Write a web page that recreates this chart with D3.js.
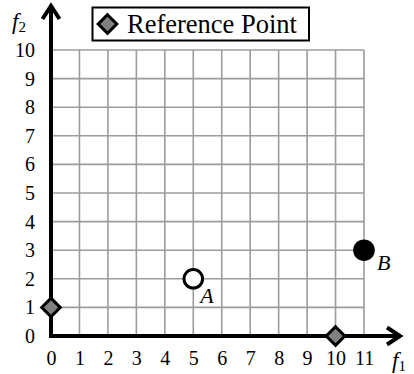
<!DOCTYPE html>
<html>
<head>
<meta charset="utf-8">
<script src="https://cdn.jsdelivr.net/npm/d3@7/dist/d3.min.js"></script>
<style>
  html, body { margin: 0; padding: 0; background: #fff; }
  svg, svg text { font-family: "Liberation Serif", "Times New Roman", Times, "DejaVu Serif", serif !important; }
</style>
</head>
<body>
<svg id="chart" width="414" height="374"></svg>
<script>
// Objective-space plot: f1 horizontal, f2 vertical
const xTicks = [0, 1, 2, 3, 4, 5, 6, 7, 8, 9, 10, 11];
const yTicks = [0, 1, 2, 3, 4, 5, 6, 7, 8, 9, 10];

// Reference points (grey diamonds)
const refPoints = [
  { f1: 0, f2: 1 },
  { f1: 10, f2: 0 }
];

// Labelled solutions
const solutionNames = ["A", "B"];
const solutionF1 = [5, 11];
const solutionF2 = [2, 3];
const solutionFilled = [false, true];

const legendLabel = "Reference Point";

const SERIF = '"Liberation Serif", "Times New Roman", Times, "DejaVu Serif", serif';

const svg = d3.select("#chart");

const x = d3.scaleLinear().domain([0, 11]).range([51, 364]);
const y = d3.scaleLinear().domain([0, 10]).range([336, 50]);

// Grid
const grid = svg.append("g").attr("stroke", "#9c9c9c").attr("stroke-width", 1.6);
grid.selectAll("line.v").data(xTicks).join("line")
  .attr("class", "v")
  .attr("x1", d => x(d)).attr("x2", d => x(d))
  .attr("y1", y(0)).attr("y2", y(10));
grid.selectAll("line.h").data(yTicks).join("line")
  .attr("class", "h")
  .attr("x1", x(0)).attr("x2", x(11))
  .attr("y1", d => y(d)).attr("y2", d => y(d));

// Tick labels via d3 axes (no domain / tick marks)
const xAxis = svg.append("g")
  .attr("transform", `translate(0,${y(0)})`)
  .call(d3.axisBottom(x).tickValues(xTicks).tickSize(0).tickPadding(15).tickFormat(d3.format("d")));
const yAxis = svg.append("g")
  .attr("transform", `translate(${x(0)},0)`)
  .call(d3.axisLeft(y).tickValues(yTicks).tickSize(0).tickPadding(16).tickFormat(d3.format("d")));
[xAxis, yAxis].forEach(g => {
  g.attr("font-family", null).attr("font-size", null);
  g.select(".domain").remove();
  g.selectAll("text")
    .style("font-family", SERIF)
    .style("font-size", "20px")
    .attr("fill", "#000");
});

// Thick axes with arrowheads
const axes = svg.append("g").attr("stroke", "#000").attr("stroke-width", 4).attr("fill", "none");
axes.append("line")
  .attr("x1", x(0)).attr("y1", y(0) + 2)
  .attr("x2", x(0)).attr("y2", 7);
axes.append("path")
  .attr("stroke-linejoin", "miter")
  .attr("d", `M${x(0) - 8.5},19 L${x(0)},6 L${x(0) + 8.5},19`);
axes.append("line")
  .attr("x1", x(0) - 2).attr("y1", y(0))
  .attr("x2", 399).attr("y2", y(0));
axes.append("path")
  .attr("stroke-linejoin", "miter")
  .attr("d", `M387,${y(0) - 8.5} L400,${y(0)} L387,${y(0) + 8.5}`);

// Axis titles
const f2 = svg.append("text").attr("x", 12).attr("y", 28.5).style("font-size", "23px");
f2.append("tspan").style("font-style", "italic").text("f");
f2.append("tspan").style("font-size", "15px").attr("dy", 3).text("2");

const f1 = svg.append("text").attr("x", 392).attr("y", 368).style("font-size", "23px");
f1.append("tspan").style("font-style", "italic").text("f");
f1.append("tspan").style("font-size", "15px").attr("dy", 2.5).text("1");

// Diamond symbol
const diamond = (cx, cy, r) => `M${cx},${cy - r} L${cx + r},${cy} L${cx},${cy + r} L${cx - r},${cy} Z`;

svg.append("g").selectAll("path").data(refPoints).join("path")
  .attr("d", d => diamond(x(d.f1), y(d.f2), 9.3))
  .attr("fill", "#808080").attr("stroke", "#000").attr("stroke-width", 3)
  .attr("stroke-linejoin", "miter");

// Solutions
const sol = solutionNames.map((n, i) => ({ name: n, f1: solutionF1[i], f2: solutionF2[i], filled: solutionFilled[i] }));
svg.append("g").selectAll("circle").data(sol).join("circle")
  .attr("cx", d => x(d.f1)).attr("cy", d => y(d.f2))
  .attr("r", d => d.filled ? 10.8 : 9.3)
  .attr("fill", d => d.filled ? "#000" : "#fff")
  .attr("stroke", "#000").attr("stroke-width", d => d.filled ? 0 : 3);
svg.append("g").selectAll("text").data(sol).join("text")
  .attr("x", d => x(d.f1) + (d.filled ? 13 : 7))
  .attr("y", d => y(d.f2) + (d.filled ? 20 : 24))
  .style("font-size", "22px").style("font-style", "italic")
  .text(d => d.name);

// Legend
const legend = svg.append("g");
legend.append("rect")
  .attr("x", 92.5).attr("y", 7.5).attr("width", 216.5).attr("height", 33)
  .attr("fill", "#fff").attr("stroke", "#000").attr("stroke-width", 2);
legend.append("path")
  .attr("d", diamond(107.5, 24, 9.3))
  .attr("fill", "#808080").attr("stroke", "#000").attr("stroke-width", 3);
legend.append("text")
  .attr("x", 127).attr("y", 33.3).style("font-size", "26.5px")
  .text(legendLabel);
</script>
</body>
</html>
